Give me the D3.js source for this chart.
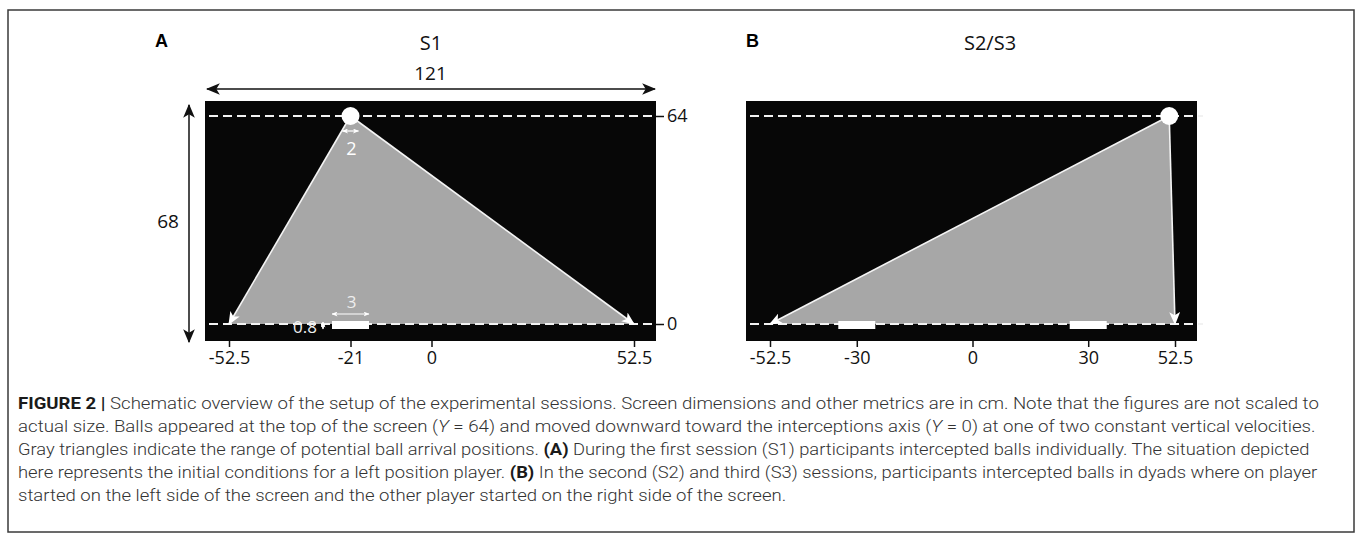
<!DOCTYPE html>
<html><head><meta charset="utf-8">
<script src="https://cdn.jsdelivr.net/npm/d3@7"></script>
<style>
html,body{margin:0;padding:0;background:#fff;}
svg{display:block;}
</style></head>
<body>
<svg id="fig" width="1357" height="538"></svg>
<script>
// ---------------- data ----------------
const panelLetters = ["A", "B"];
const sessionTitles = ["S1", "S2/S3"];
const screenWidthCm = 121;
const screenHeightCm = 68;
const lineLevels = [0, 64];            // interception axis, ball start height
const arrivalRange = [-52.5, 52.5];    // potential ball arrival positions
const ticksA = [-52.5, -21, 0, 52.5];
const ticksB = [-52.5, -30, 0, 30, 52.5];
const ballStartX = [-21, 51];          // ball start x in A and B
const paddlesA = [-21];
const paddlesB = [-30, 30];
const ballDiameterCm = 2;
const paddleWidthCm = 3;
const paddleHeightCm = 0.8;
const captionLines = [
  [["FIGURE 2 | ", "b"], ["Schematic overview of the setup of the experimental sessions. Screen dimensions and other metrics are in cm. Note that the figures are not scaled to", ""]],
  [["actual size. Balls appeared at the top of the screen (", ""], ["Y", "i"], [" = 64) and moved downward toward the interceptions axis (", ""], ["Y", "i"], [" = 0) at one of two constant vertical velocities.", ""]],
  [["Gray triangles indicate the range of potential ball arrival positions. ", ""], ["(A)", "b"], [" During the first session (S1) participants intercepted balls individually. The situation depicted", ""]],
  [["here represents the initial conditions for a left position player. ", ""], ["(B)", "b"], [" In the second (S2) and third (S3) sessions, participants intercepted balls in dyads where on player", ""]],
  [["started on the left side of the screen and the other player started on the right side of the screen.", ""]]
];

// ---------------- drawing ----------------
const svg = d3.select("#fig");
const FONT = "'Open Sans', 'Noto Sans', sans-serif";

// outer frame
svg.append("rect").attr("x", 8).attr("y", 10).attr("width", 1346).attr("height", 522)
  .attr("fill", "none").attr("stroke", "#3a3a3a").attr("stroke-width", 1.5);

const defs = svg.append("defs");
function marker(id, color, size) {
  defs.append("marker").attr("id", id)
    .attr("viewBox", "0 0 12 10").attr("refX", 11).attr("refY", 5)
    .attr("markerWidth", size).attr("markerHeight", size * 10 / 12)
    .attr("markerUnits", "userSpaceOnUse").attr("orient", "auto-start-reverse")
    .append("path").attr("d", "M0,0 L12,5 L0,10 L3,5 Z").attr("fill", color);
}
marker("blackArrow", "#111", 14);
marker("whiteArrow", "#fff", 13);
marker("whiteSmall", "#fff", 6);

const y = d3.scaleLinear().domain(lineLevels).range([324, 116]);

const panels = [
  { letter: panelLetters[0], title: sessionTitles[0], x: d3.scaleLinear().domain(arrivalRange).range([229, 634]),
    ticks: ticksA, ball: ballStartX[0], paddles: paddlesA, rightAxis: true, letterX: 155, titleX: 431 },
  { letter: panelLetters[1], title: sessionTitles[1], x: d3.scaleLinear().domain(arrivalRange).range([770, 1175]),
    ticks: ticksB, ball: ballStartX[1], paddles: paddlesB, rightAxis: false, letterX: 746, titleX: 990 }
];

const PAD_L = 24, PAD_R = 22, PAD_T = 15, PAD_B = 17;
const PADDLE_W = 37, PADDLE_H = 8;

panels.forEach((p, i) => {
  const g = svg.append("g");
  const x = p.x;
  const left = x(arrivalRange[0]) - PAD_L, right = x(arrivalRange[1]) + PAD_R;
  const top = y(lineLevels[1]) - PAD_T, bottom = y(lineLevels[0]) + PAD_B;

  // letter and title
  g.append("text").attr("x", p.letterX).attr("y", 47).text(p.letter)
    .attr("font-family", "'Liberation Sans', Arial, sans-serif").attr("font-weight", "bold")
    .attr("font-size", 18).attr("fill", "#000");
  g.append("text").attr("x", p.titleX).attr("y", 50).attr("text-anchor", "middle").text(p.title)
    .attr("font-family", FONT).attr("font-size", 20).attr("fill", "#111");

  // screen
  g.append("rect").attr("x", left).attr("y", top).attr("width", right - left).attr("height", bottom - top)
    .attr("fill", "#070707");

  // triangle of arrival positions
  const apex = [x(p.ball), y(lineLevels[1])];
  const bl = [x(arrivalRange[0]), y(lineLevels[0])];
  const br = [x(arrivalRange[1]), y(lineLevels[0])];
  g.append("path").attr("d", d3.line()([apex, bl, br]) + "Z").attr("fill", "#a7a7a7");

  // dashed lines
  lineLevels.forEach(l => {
    g.append("line").attr("x1", left + 4).attr("x2", i === 0 ? right : right + 6)
      .attr("y1", y(l)).attr("y2", y(l))
      .attr("stroke", "#f2f2f2").attr("stroke-width", 2).attr("stroke-dasharray", "9,5");
  });

  // triangle edges with arrowheads
  [bl, br].forEach(pt => {
    g.append("line").attr("x1", apex[0]).attr("y1", apex[1]).attr("x2", pt[0]).attr("y2", pt[1])
      .attr("stroke", "#f4f4f4").attr("stroke-width", 1.6).attr("marker-end", "url(#whiteArrow)");
  });

  // paddles
  p.paddles.forEach(px => {
    g.append("rect").attr("x", x(px) - PADDLE_W / 2).attr("y", y(lineLevels[0]) - 3)
      .attr("width", PADDLE_W).attr("height", PADDLE_H).attr("fill", "#fff");
  });

  // ball
  g.append("circle").attr("cx", apex[0]).attr("cy", apex[1]).attr("r", 9).attr("fill", "#fff");

  // bottom axis
  const ax = g.append("g").attr("transform", `translate(0,${bottom})`)
    .call(d3.axisBottom(x).tickValues(p.ticks).tickSize(6).tickPadding(4).tickFormat(d => String(d)));
  ax.select(".domain").remove();
  ax.selectAll(".tick line").attr("stroke", "#111").attr("stroke-width", 1.5);
  ax.selectAll(".tick text").attr("font-family", FONT).attr("font-size", 18).attr("fill", "#111");

  if (p.rightAxis) {
    const ay = g.append("g").attr("transform", `translate(${right},0)`)
      .call(d3.axisRight(y).tickValues(lineLevels).tickSize(8).tickPadding(3));
    ay.select(".domain").remove();
    ay.selectAll(".tick line").attr("stroke", "#111").attr("stroke-width", 1.5);
    ay.selectAll(".tick text").attr("font-family", FONT).attr("font-size", 18).attr("fill", "#111");

    // width arrow (121)
    g.append("line").attr("x1", left + 2).attr("x2", right - 1).attr("y1", 89).attr("y2", 89)
      .attr("stroke", "#111").attr("stroke-width", 1.5)
      .attr("marker-start", "url(#blackArrow)").attr("marker-end", "url(#blackArrow)");
    g.append("text").attr("x", (left + right) / 2).attr("y", 80).attr("text-anchor", "middle")
      .text(String(screenWidthCm)).attr("font-family", FONT).attr("font-size", 19).attr("fill", "#111");

    // height arrow (68)
    g.append("line").attr("x1", 189).attr("x2", 189).attr("y1", top + 4).attr("y2", bottom + 1)
      .attr("stroke", "#111").attr("stroke-width", 1.5)
      .attr("marker-start", "url(#blackArrow)").attr("marker-end", "url(#blackArrow)");
    g.append("text").attr("x", 168).attr("y", 228).attr("text-anchor", "middle")
      .text(String(screenHeightCm)).attr("font-family", FONT).attr("font-size", 19).attr("fill", "#111");

    // ball diameter annotation
    const bx = x(p.ball);
    g.append("line").attr("x1", bx - 8).attr("x2", bx + 8).attr("y1", y(lineLevels[1]) + 15).attr("y2", y(lineLevels[1]) + 15)
      .attr("stroke", "#fff").attr("stroke-width", 1.2)
      .attr("marker-start", "url(#whiteSmall)").attr("marker-end", "url(#whiteSmall)");
    g.append("text").attr("x", bx + 1).attr("y", y(lineLevels[1]) + 39).attr("text-anchor", "middle")
      .text(String(ballDiameterCm)).attr("font-family", FONT).attr("font-size", 18).attr("fill", "#fff");

    // paddle width annotation
    const pxc = x(paddlesA[0]);
    g.append("line").attr("x1", pxc - PADDLE_W / 2).attr("x2", pxc + PADDLE_W / 2)
      .attr("y1", y(lineLevels[0]) - 10).attr("y2", y(lineLevels[0]) - 10)
      .attr("stroke", "#fff").attr("stroke-width", 1.2)
      .attr("marker-start", "url(#whiteSmall)").attr("marker-end", "url(#whiteSmall)");
    g.append("text").attr("x", pxc + 1).attr("y", y(lineLevels[0]) - 16).attr("text-anchor", "middle")
      .text(String(paddleWidthCm)).attr("font-family", FONT).attr("font-size", 17).attr("fill", "#eee");

    // paddle height annotation
    const hx = pxc - PADDLE_W / 2 - 9;
    g.append("line").attr("x1", hx).attr("x2", hx).attr("y1", y(lineLevels[0]) - 2).attr("y2", y(lineLevels[0]) + 5)
      .attr("stroke", "#fff").attr("stroke-width", 1.2)
      .attr("marker-start", "url(#whiteSmall)").attr("marker-end", "url(#whiteSmall)");
    g.append("text").attr("x", hx - 6).attr("y", y(lineLevels[0]) + 9).attr("text-anchor", "end")
      .text(String(paddleHeightCm)).attr("font-family", FONT).attr("font-size", 17).attr("fill", "#eee");
  }
});

// ---------------- caption ----------------
const capWidths = [1302, 1299, 1293, 1300, 769];
const capG = svg.append("g");
captionLines.forEach((segs, i) => {
  const t = capG.append("text").attr("x", 0).attr("y", 0)
    .attr("font-family", "Roboto, 'Liberation Sans', sans-serif").attr("font-weight", 300)
    .attr("font-size", 16).attr("fill", "#333");
  segs.forEach(([s, st]) => {
    const ts = t.append("tspan").text(s);
    if (st === "b") ts.attr("font-weight", "bold").attr("fill", "#1a1a1a");
    if (st === "i") ts.attr("font-style", "italic");
  });
  const w = t.node().getComputedTextLength();
  const k = capWidths[i] / w;
  t.attr("transform", `translate(18,${409 + i * 23}) scale(${k},1)`);
});
</script>
</body></html>
